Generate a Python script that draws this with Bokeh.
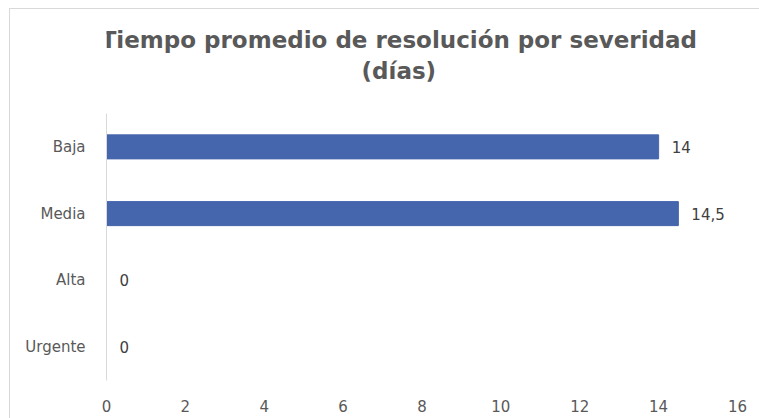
from bokeh.plotting import figure
from bokeh.models import ColumnDataSource, FactorRange, Range1d, FixedTicker
from bokeh.layouts import column
from bokeh.embed import file_html
from bokeh.resources import INLINE
from bokeh.core.properties import value

# Data
categories = ["Baja", "Media", "Alta", "Urgente"]
dias = [14, 14.5, 0, 0]
x_ticks = [0, 2, 4, 6, 8, 10, 12, 14, 16]
title_lines = ["Tiempo promedio de resolución por severidad", "(días)"]

labels = [("%g" % v).replace(".", ",") for v in dias]
src = ColumnDataSource(dict(cat=categories, val=dias, lab=labels))

FONT = "DejaVu Sans"
GRAY = "#595959"
W, H_TITLE, H_MAIN = 749, 104, 305

# --- title strip (pixel-space figure, no axes) ---
t = figure(width=W, height=H_TITLE, x_range=Range1d(0, W), y_range=Range1d(H_TITLE, 0),
           x_axis_location=None, y_axis_location=None,
           output_backend="svg", toolbar_location=None,
           min_border_left=0, min_border_right=0, min_border_top=0, min_border_bottom=0)
t.grid.visible = False
t.outline_line_color = None
t.background_fill_color = "white"
t.border_fill_color = "white"
tsrc = ColumnDataSource(dict(x=[347, 347], y=[30, 61], txt=title_lines))
t.text(x="x", y="y", text="txt", source=tsrc, text_align="center",
       text_baseline="alphabetic", text_font=value(FONT), text_font_size="23px",
       text_font_style="bold", text_color=GRAY)

# --- main chart ---
p = figure(
    width=W, height=H_MAIN, title=None,
    y_range=FactorRange(*list(reversed(categories))),
    x_range=Range1d(0, 16),
    output_backend="svg", toolbar_location=None,
    min_border_left=96, min_border_right=22, min_border_top=0, min_border_bottom=38,
)
p.outline_line_color = None
p.background_fill_color = "white"
p.border_fill_color = "white"

p.hbar(y="cat", right="val", left=0, height=0.36, source=src,
       fill_color="#4565AD", line_color="#4565AD")

p.text(x="val", y="cat", text="lab", source=src, x_offset=13,
       text_align="left", text_baseline="middle",
       text_font=value(FONT), text_font_size="15px", text_color="#404040")

p.xgrid.visible = False
p.ygrid.visible = False

p.xaxis.ticker = FixedTicker(ticks=x_ticks)
p.xaxis.axis_line_color = None
p.xaxis.major_tick_line_color = None
p.xaxis.minor_tick_line_color = None
p.xaxis.major_label_text_font = FONT
p.xaxis.major_label_text_font_size = "15px"
p.xaxis.major_label_text_color = GRAY
p.xaxis.major_label_standoff = 13

p.yaxis.axis_line_color = "#d9d9d9"
p.yaxis.major_tick_line_color = None
p.yaxis.minor_tick_line_color = None
p.yaxis.major_label_text_font = FONT
p.yaxis.major_label_text_font_size = "15px"
p.yaxis.major_label_text_color = GRAY
p.yaxis.major_label_standoff = 15

layout = column(t, p, spacing=0)
layout.styles = {"margin-left": "9px", "margin-top": "8px",
                 "border-left": "1px solid #d9d9d9", "border-top": "1px solid #d9d9d9"}

open("out.html", "w").write(file_html(layout, INLINE))
